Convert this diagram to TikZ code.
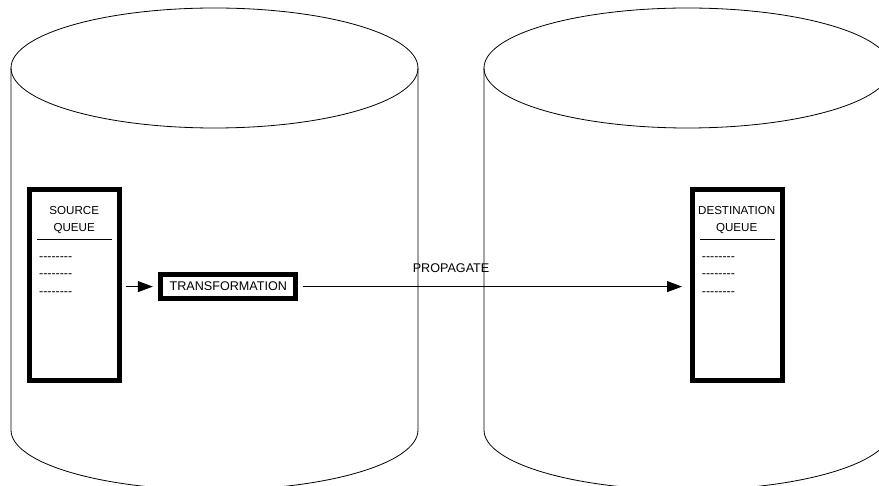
\documentclass[tikz,border=0pt]{standalone}
\usepackage{fontspec}
\setmainfont{Liberation Sans}
\usetikzlibrary{arrows.meta}
% a row of eight hyphens, kept apart so they do not join into dashes
\newcommand\qdashrow{-{}-{}-{}-{}-{}-{}-{}-}
\begin{document}
\begin{tikzpicture}[x=1pt,y=-1pt,
  drum/.style={line width=0.8pt},
  queuebox/.style={draw,line width=5pt,fill=white,minimum width=90pt,minimum height=190.7pt,inner sep=0pt},
  procbox/.style={draw,line width=5pt,fill=white,minimum width=135pt,minimum height=24.8pt,inner sep=0pt,font=\fontsize{12.6}{14}\selectfont},
  hdr/.style={anchor=base,inner sep=0pt,font=\fontsize{11.6}{14}\selectfont},
  entry/.style={anchor=base west,inner sep=0pt,font=\fontsize{12.4}{14}\selectfont},
  flow/.style={line width=0.8pt,-{Triangle[length=15pt,width=11pt]}},
  rulel/.style={line width=0.8pt}]
\useasboundingbox (0,0) rectangle (879,486);
\clip (0,0) rectangle (879,486);

% the two databases
\foreach \cx in {214.5,687.5} {
  \draw[drum] (\cx-203.5,68) -- (\cx-203.5,430)
    arc[start angle=180,end angle=360,x radius=203.5pt,y radius=60pt]
    -- (\cx+203.5,68);
  \draw[drum] (\cx,68) ellipse[x radius=203.5pt,y radius=60pt];
}

% queues and the transformation step
\node[queuebox] (src) at (74.2,285.2) {};
\node[queuebox] (dst) at (737.5,285.2) {};
\node[procbox] (trans) at (228.3,286.6) {TRANSFORMATION};

% source queue contents
\node[hdr] (srcA) at (74.2,215) {SOURCE};
\node[hdr] (srcB) at (74.2,231.5) {QUEUE};
\draw[rulel] (37,239) -- (112,239);
\node[entry] (s1) at (39,260.3) {\qdashrow};
\node[entry] (s2) at (39,278.0) {\qdashrow};
\node[entry] (s3) at (39,295.7) {\qdashrow};

% destination queue contents
\node[hdr] (dstA) at (736.7,215) {DESTINATION};
\node[hdr] (dstB) at (736.7,231.5) {QUEUE};
\draw[rulel] (700,239) -- (775,239);
\node[entry] (d1) at (701.7,260.3) {\qdashrow};
\node[entry] (d2) at (701.7,278.0) {\qdashrow};
\node[entry] (d3) at (701.7,295.7) {\qdashrow};

% message flow
\draw[flow,shorten <=4pt,shorten >=5.5pt] (src.east |- trans.west) -- (trans.west);
\draw[flow,shorten <=5pt,shorten >=8pt] (trans.east) -- (trans.east -| dst.west)
  node[pos=0.39,anchor=base,yshift=13.9pt,inner sep=0pt,font=\fontsize{12.6}{14}\selectfont] (prop) {PROPAGATE};
\end{tikzpicture}
\end{document}
